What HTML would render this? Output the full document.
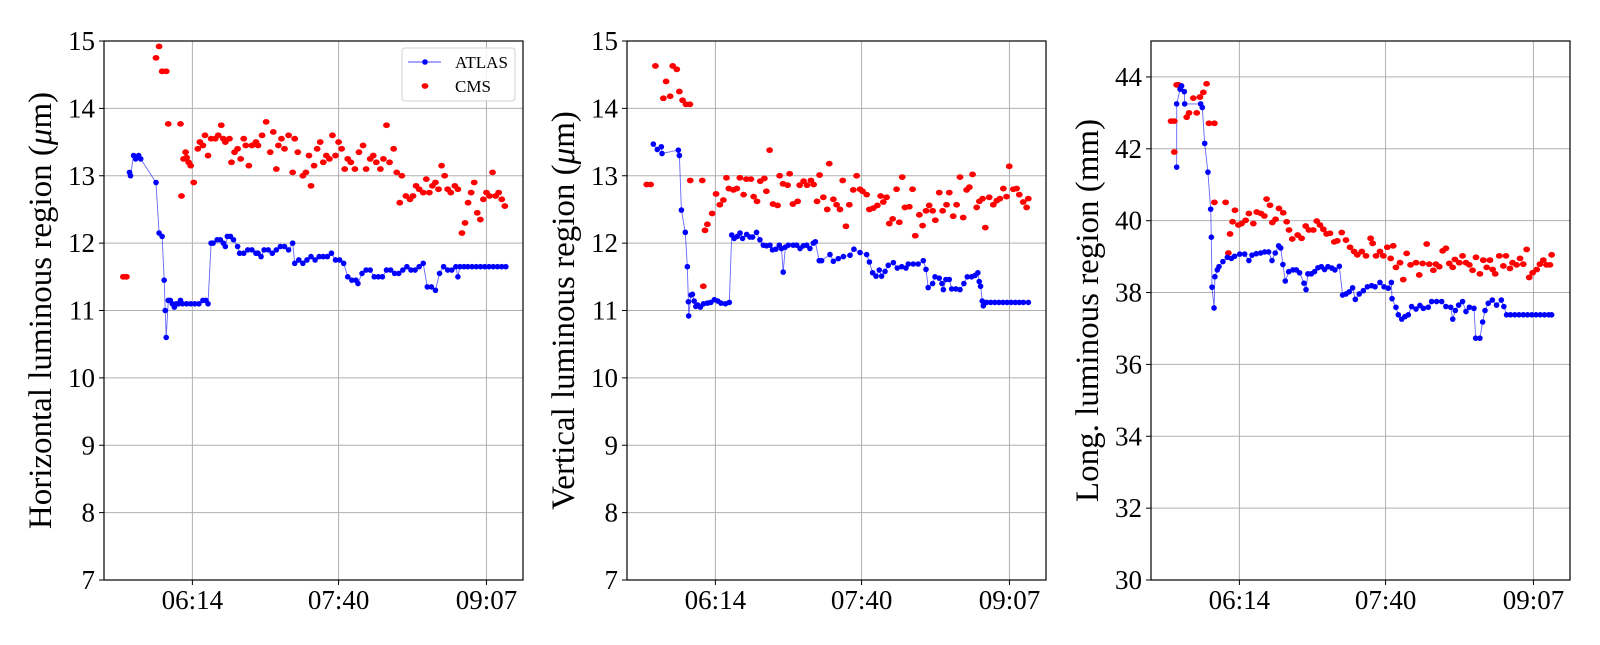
<!DOCTYPE html>
<html><head><meta charset="utf-8">
<style>
html,body{margin:0;padding:0;background:#fff;}
svg text{font-family:"Liberation Serif","Times New Roman",serif;fill:#000;}
</style></head>
<body>
<svg id="fig" width="1600" height="640" viewBox="0 0 1600 640" xmlns="http://www.w3.org/2000/svg" font-family="Liberation Serif, serif"></svg>
<script>
// time in minutes since 05:22; x domain
const xDomain=[0,246.5];
const xTickVals=[52,138,225];
const xTickLabels=["06:14","07:40","09:07"];

// Panel 1: horizontal (um)
const atlasH=[[15,13.05],[15.6,13.0],[17.4,13.3],[18.6,13.25],[20.4,13.3],[21.6,13.25],[30.6,12.9],[32.4,12.15],[34.2,12.1],[35.4,11.45],[36,11.0],[36.6,10.6],[37.8,11.15],[39,11.15],[40.2,11.1],[41.4,11.05],[42.6,11.1],[43.8,11.1],[45,11.15],[46.2,11.1],[48.6,11.1],[51,11.1],[53.4,11.1],[55.8,11.1],[58.2,11.15],[60,11.15],[61.2,11.1],[63,12.0],[64.2,12.0],[66.6,12.05],[68.4,12.05],[70.2,12.0],[71.4,11.95],[72.6,12.1],[74.4,12.1],[76.2,12.05],[78.6,11.95],[79.8,11.85],[82.2,11.85],[84.6,11.9],[87,11.9],[89.4,11.85],[90.6,11.85],[92.4,11.8],[94.2,11.9],[96.6,11.9],[99,11.85],[101.4,11.9],[103.8,11.95],[106.2,11.95],[108.6,11.9],[111,12.0],[112.2,11.7],[114.6,11.75],[117,11.7],[119.4,11.75],[121.8,11.8],[124.2,11.75],[126.6,11.8],[129,11.8],[131.4,11.8],[133.8,11.85],[136.2,11.75],[138.6,11.75],[141,11.7],[143.4,11.5],[145.8,11.45],[148.2,11.45],[149.4,11.4],[151.8,11.55],[154.2,11.6],[156.6,11.6],[159,11.5],[161.4,11.5],[163.8,11.5],[166.2,11.6],[168.6,11.6],[171,11.55],[173.4,11.55],[175.8,11.6],[178.2,11.65],[180.6,11.6],[183,11.6],[185.4,11.65],[187.8,11.7],[190.2,11.35],[192.6,11.35],[195,11.3],[197.4,11.55],[199.8,11.65],[202.2,11.6],[204.6,11.6],[207,11.65],[208.2,11.5],[209.4,11.65],[211.8,11.65],[214,11.65],[216.5,11.65],[219,11.65],[221.5,11.65],[224,11.65],[226.5,11.65],[229,11.65],[231.5,11.65],[234,11.65],[236.4,11.65]];
const cmsH=[[11.4,11.5],[13.2,11.5],[30.6,14.75],[32.4,14.92],[34.2,14.55],[36.6,14.55],[37.8,13.77],[45,13.77],[45.6,12.7],[46.8,13.25],[48,13.35],[48.6,13.27],[49.8,13.2],[51,13.15],[52.8,12.9],[55.2,13.4],[56.4,13.5],[58.2,13.45],[59.4,13.6],[61.2,13.3],[63,13.55],[65.4,13.55],[67.2,13.6],[69,13.75],[70.2,13.55],[71.4,13.5],[73.8,13.55],[75,13.2],[76.8,13.35],[78.6,13.4],[80.4,13.25],[82.2,13.55],[83.4,13.45],[85.2,13.15],[87,13.45],[89.4,13.5],[90.6,13.45],[93,13.6],[95.4,13.8],[97.8,13.35],[99.6,13.65],[101.4,13.1],[102.6,13.45],[104.4,13.55],[106.2,13.4],[108.6,13.6],[111,13.05],[112.2,13.55],[114,13.35],[117,13.0],[118.8,13.05],[120.6,13.3],[121.8,12.85],[123.6,13.15],[125.4,13.4],[127.2,13.5],[129,13.2],[130.8,13.3],[132.6,13.25],[134.4,13.6],[136.2,13.3],[138,13.5],[139.8,13.4],[141.6,13.1],[143.4,13.25],[145.2,13.2],[147.6,13.1],[150,13.35],[152.4,13.45],[154.2,13.1],[156.6,13.25],[158.4,13.3],[160.2,13.2],[162.6,13.1],[164.4,13.25],[166.2,13.75],[168,13.2],[170.4,13.4],[172.2,13.05],[174,12.6],[175.2,13.0],[177.6,12.7],[180,12.65],[181.8,12.7],[183.6,12.85],[185.4,12.8],[187.8,12.75],[189.6,12.95],[191.4,12.75],[193.2,12.85],[195,12.9],[196.8,12.8],[198.6,13.15],[200.4,13.0],[202.2,12.8],[204,12.75],[206.4,12.85],[208.2,12.8],[210.6,12.15],[212.4,12.3],[214.2,12.6],[216,12.75],[217.8,12.9],[219.6,12.45],[221.4,12.35],[223.2,12.65],[225,12.75],[226.8,12.7],[228.6,13.05],[230.4,12.7],[232.2,12.75],[234,12.65],[235.8,12.55]];

// Panel 2: vertical (um)
const atlasV=[[15.5,13.47],[17.8,13.39],[20.2,13.43],[20.6,13.33],[30.2,13.38],[30.8,13.3],[32,12.49],[34.3,12.16],[35.5,11.65],[36.1,11.13],[36.3,10.92],[37.7,11.23],[38.5,11.24],[39.5,11.14],[40.5,11.06],[41.6,11.08],[43.2,11.05],[45,11.1],[47.3,11.11],[49.3,11.12],[51.4,11.16],[53.4,11.14],[55.3,11.11],[57.9,11.1],[60.2,11.12],[61.6,12.12],[63.1,12.07],[64.9,12.1],[66.5,12.15],[68,12.07],[70.4,12.13],[72.3,12.09],[73.9,12.09],[76.2,12.16],[78.2,12.05],[80.2,11.97],[82.1,11.96],[84.1,11.97],[85.6,11.9],[87.6,11.91],[89.6,11.97],[90.9,11.92],[91.9,11.57],[93.1,11.94],[94.9,11.97],[97.8,11.97],[99.8,11.97],[101.8,11.92],[103.7,11.96],[105.7,11.97],[107.6,11.92],[109.6,12.0],[110.8,12.02],[113.1,11.74],[114.5,11.74],[119.4,11.83],[121.4,11.73],[124.3,11.77],[127.3,11.8],[131.2,11.82],[133.5,11.91],[137.1,11.86],[141,11.83],[142.6,11.72],[144.5,11.56],[146.5,11.51],[148.4,11.6],[149.8,11.51],[151.8,11.58],[153.7,11.67],[156.7,11.71],[159,11.63],[161.6,11.65],[164.1,11.63],[165.5,11.69],[168.4,11.69],[171.3,11.69],[174.3,11.74],[175.9,11.61],[177.2,11.34],[179.8,11.4],[181.2,11.5],[183.7,11.48],[185.3,11.4],[186.1,11.31],[187.6,11.46],[189.6,11.46],[191,11.32],[193.5,11.32],[195.9,11.31],[198.2,11.4],[200.2,11.5],[202.7,11.5],[204.7,11.52],[206.4,11.56],[207.2,11.43],[208,11.36],[209,11.14],[209.6,11.07],[211.6,11.12],[214,11.12],[216.4,11.12],[218.8,11.12],[221.2,11.12],[223.6,11.12],[226,11.12],[228.4,11.12],[230.8,11.12],[233.2,11.12],[236.1,11.12]];
const cmsV=[[11.6,12.87],[13.9,12.87],[16.7,14.63],[21.4,14.15],[23,14.4],[25.4,14.18],[26.9,14.63],[29.3,14.58],[30.8,14.25],[32.7,14.12],[34.7,14.06],[37,14.06],[37.2,12.93],[44.3,12.93],[44.9,11.36],[45.9,12.19],[47.3,12.28],[50.1,12.44],[52.4,12.73],[54.6,12.57],[56.7,12.64],[58.5,12.97],[59.9,12.81],[62.6,12.79],[64.6,12.81],[66.4,12.97],[68.6,12.72],[70.2,12.95],[72.9,12.95],[74.5,12.69],[76.5,12.62],[78.4,12.92],[80.8,12.96],[82,12.77],[83.9,13.38],[85.9,12.58],[88.6,12.56],[89.8,13.0],[91.8,12.88],[94.5,12.86],[95.7,13.03],[97.6,12.58],[100.4,12.62],[101.6,12.86],[103.9,12.92],[105.9,12.86],[108.2,12.93],[109.8,12.87],[111.8,12.62],[113.3,13.01],[115.5,12.68],[117.8,12.5],[119,13.18],[121.4,12.65],[123.3,12.57],[125.3,12.5],[126.9,12.93],[128.8,12.25],[130.8,12.57],[133.1,12.79],[135.1,13.0],[137.1,12.8],[138.6,12.77],[141,12.72],[142.6,12.5],[144.9,12.52],[147.3,12.56],[149.2,12.7],[150.8,12.61],[152.7,12.68],[154.3,12.29],[156.3,12.36],[158.6,12.8],[160.2,12.31],[161.9,12.98],[163.5,12.53],[166.1,12.54],[168,12.8],[169.6,12.11],[172,12.42],[173.9,12.26],[175.9,12.48],[177.8,12.56],[179.8,12.48],[181.4,12.34],[183.7,12.75],[185.7,12.48],[188,12.57],[189.6,12.75],[191.9,12.4],[193.9,12.57],[195.9,12.98],[197.8,12.38],[199.8,12.79],[201.4,12.83],[203.3,13.02],[205.7,12.53],[207.3,12.62],[209.2,12.66],[210.8,12.23],[213.1,12.68],[215.5,12.57],[217.5,12.63],[219.4,12.66],[221.4,12.81],[223.3,12.69],[224.9,13.14],[227.3,12.8],[229.2,12.81],[230.8,12.72],[233.1,12.61],[235.1,12.53],[236.1,12.66]];

// Panel 3: longitudinal (mm)
const atlasL=[[15.1,41.49],[15.1,43.25],[17.1,43.66],[18,43.75],[19.6,43.59],[19.8,43.25],[29.2,43.25],[30.2,43.15],[31.6,42.15],[33.5,41.35],[35.1,40.32],[35.5,39.54],[35.9,38.15],[37.1,37.57],[37.6,38.44],[39,38.63],[40,38.72],[42.3,38.86],[44.9,38.98],[47.3,38.95],[49.2,39.01],[52.2,39.07],[55.1,39.07],[57.6,38.89],[59.4,39.04],[61.9,39.08],[64.5,39.1],[66.9,39.13],[69.2,39.13],[71.2,38.89],[73.1,39.1],[75.1,39.3],[76.3,39.24],[77.6,38.78],[79,38.32],[81,38.58],[83.5,38.63],[85.5,38.63],[87.4,38.55],[90,38.26],[91.2,38.08],[92.3,38.52],[94.3,38.52],[96.2,38.58],[98.2,38.69],[100.2,38.72],[102.1,38.64],[104.1,38.72],[106.4,38.68],[108.2,38.63],[110.8,38.73],[112.7,37.93],[114.7,37.96],[116.6,38.02],[118.6,38.13],[120.2,37.81],[122.5,37.96],[124.9,38.05],[127.3,38.16],[129.8,38.19],[131.8,38.16],[134.7,38.28],[137.1,38.16],[139.6,38.12],[141.4,38.28],[141.8,37.83],[144.1,37.59],[145.5,37.38],[147.5,37.26],[149.4,37.33],[151.4,37.38],[153.3,37.61],[155.9,37.54],[158.2,37.64],[160.2,37.56],[163.1,37.59],[165.1,37.75],[168,37.75],[171,37.75],[173.5,37.61],[176.3,37.59],[177.5,37.26],[179,37.5],[181,37.65],[183.3,37.75],[185.3,37.47],[187.3,37.59],[190,37.56],[191,36.73],[193.5,36.73],[195.1,37.18],[196.5,37.5],[198.4,37.7],[200.8,37.79],[203.3,37.65],[206.1,37.79],[207.6,37.61],[209.2,37.38],[211.5,37.38],[214,37.38],[216.5,37.38],[219,37.38],[221.5,37.38],[224,37.38],[226.5,37.38],[229,37.38],[231.5,37.38],[234,37.38],[235.7,37.38]];
const cmsL=[[11.8,42.77],[13.7,42.77],[13.7,41.91],[15.1,43.78],[16.1,43.78],[21,42.88],[22.4,43.0],[24.9,43.41],[26.9,43.0],[28.8,43.44],[30.8,43.57],[32.7,43.81],[34.1,42.71],[37.3,42.71],[37.3,40.51],[43.9,40.51],[45.5,39.1],[46.5,39.63],[48,39.97],[49.4,40.29],[51.4,39.88],[53.3,39.92],[55.7,40.01],[57.6,40.2],[60.2,39.92],[62.2,40.24],[64.7,40.2],[66.7,40.13],[68,40.6],[70,40.43],[71.4,39.95],[73.3,40.04],[75.3,40.34],[77.8,40.22],[79.8,39.97],[81.2,39.74],[83.1,39.49],[86.3,39.6],[88.6,39.51],[91,39.85],[92.9,39.74],[95.5,39.74],[97.5,39.99],[99.4,39.88],[101.4,39.76],[103.3,39.63],[105.3,39.65],[107.8,39.41],[109.6,39.44],[112.2,39.67],[114.7,39.46],[117.1,39.26],[119.5,39.14],[121.4,39.05],[124,39.14],[126.5,39.02],[129.2,39.51],[130.4,39.37],[132.4,39.02],[134.7,39.14],[136.7,39.02],[139,39.26],[141,38.95],[142.5,39.3],[144.1,38.7],[146.5,38.83],[148.4,38.36],[150.4,39.09],[152.7,38.77],[155.9,38.83],[157.8,38.49],[159.8,38.81],[162.2,39.35],[163.7,38.79],[166.1,38.62],[167.6,38.79],[169.6,38.72],[171.6,39.16],[173.5,39.23],[175.5,38.81],[177.5,38.7],[178.8,38.92],[181.4,38.83],[183.3,39.02],[185.3,38.83],[187.3,38.77],[189.2,38.62],[191.2,38.98],[193.5,38.52],[195.5,38.9],[197.5,38.7],[199.4,38.9],[201,38.64],[202.5,38.52],[204.9,39.02],[207.3,38.74],[208.8,39.02],[211.2,38.67],[212.7,38.83],[215.1,38.77],[217.1,38.95],[219,38.79],[221,39.2],[222.5,38.42],[224.5,38.55],[226.9,38.64],[228.8,38.79],[230.8,38.9],[232.7,38.77],[234.7,38.77],[235.7,39.05]];

const yTicksHV=[7,8,9,10,11,12,13,14,15];
const yTicksL=[30,32,34,36,38,40,42,44];

const NS="http://www.w3.org/2000/svg";
const FF='"Liberation Serif", serif';
const svg=document.getElementById('fig');
function mk(tag,attrs,parent){const e=document.createElementNS(NS,tag);for(const k in attrs)e.setAttribute(k,attrs[k]);if(tag==='text'){e.setAttribute('font-family',FF);e.style.fontFamily=FF;}(parent||svg).appendChild(e);return e;}

const TOP=41,BOT=580,W=419;
function drawPanel(left,yMin,yMax,yTicks,atlas,cms,title,key,legend){
  const g=mk('g',{});
  
  
  const xs=t=>left+(t-xDomain[0])/(xDomain[1]-xDomain[0])*W;
  const ys=v=>BOT-(v-yMin)/(yMax-yMin)*(BOT-TOP);
  xTickVals.forEach((t,i)=>{
    const l=mk('line',{x1:xs(t),x2:xs(t),y1:TOP,y2:BOT,stroke:'#b0b0b0','stroke-width':1},g);
    
    
  });
  yTicks.forEach(v=>{
    const l=mk('line',{x1:left,x2:left+W,y1:ys(v),y2:ys(v),stroke:'#b0b0b0','stroke-width':1},g);
    
    
  });
  const pts=atlas.map(p=>xs(p[0]).toFixed(1)+','+ys(p[1]).toFixed(1)).join(' ');
  const pl=mk('polyline',{points:pts,fill:'none',stroke:'#0000ff','stroke-opacity':0.6,'stroke-width':0.9},g);
  
  
  cms.forEach(p=>{
    const c=mk('ellipse',{cx:xs(p[0]),cy:ys(p[1]),rx:3.4,ry:2.9,fill:'#ff0000'},g);
    
    
  });
  atlas.forEach(p=>{
    const c=mk('circle',{cx:xs(p[0]),cy:ys(p[1]),r:2.8,fill:'#0000ff'},g);
    
    
  });
  const fr=mk('rect',{x:left,y:TOP,width:W,height:BOT-TOP,fill:'none',stroke:'#000','stroke-width':1.2},g);
  
  
  xTickVals.forEach((t,i)=>{
    mk('line',{x1:xs(t),x2:xs(t),y1:BOT,y2:BOT+5,stroke:'#000','stroke-width':1},g);
    const tx=mk('text',{x:xs(t),y:BOT+29,'text-anchor':'middle','font-size':27},g);
    tx.textContent=xTickLabels[i];
    
    
  });
  yTicks.forEach(v=>{
    mk('line',{x1:left-5,x2:left,y1:ys(v),y2:ys(v),stroke:'#000','stroke-width':1},g);
    const tx=mk('text',{x:left-9,y:ys(v)+9,'text-anchor':'end','font-size':27},g);
    tx.textContent=String(v);
    
    
  });
  const cy=(TOP+BOT)/2;
  const yt=mk('text',{x:0,y:0,'text-anchor':'middle','font-size':33,transform:`translate(${left-53},${cy}) rotate(-90)`},g);
  yt.innerHTML=title;
  
  
  if(legend){
    const lg=mk('g',{},g);
    
    
    mk('rect',{x:402,y:48,width:113,height:53,rx:3,fill:'#fff','fill-opacity':0.85,stroke:'#d0d0d0','stroke-width':1},lg);
    mk('line',{x1:408,x2:441,y1:62,y2:62,stroke:'#0000ff','stroke-opacity':0.7,'stroke-width':1},lg);
    mk('circle',{cx:425,cy:62,r:2.8,fill:'#0000ff'},lg);
    const t1=mk('text',{x:455,y:68,'font-size':17},lg);t1.textContent='ATLAS';
    
    
    mk('ellipse',{cx:425,cy:86,rx:3.4,ry:2.9,fill:'#ff0000'},lg);
    const t2=mk('text',{x:455,y:92,'font-size':17},lg);t2.textContent='CMS';
    
    
  }
}
drawPanel(104,7,15,yTicksHV,atlasH,cmsH,'Horizontal luminous region (<tspan font-style="italic">μ</tspan>m)','horizontal',true);
drawPanel(627,7,15,yTicksHV,atlasV,cmsV,'Vertical luminous region (<tspan font-style="italic">μ</tspan>m)','vertical',false);
drawPanel(1151,30,45,yTicksL,atlasL,cmsL,'Long. luminous region (mm)','longitudinal',false);
</script>
</body></html>
